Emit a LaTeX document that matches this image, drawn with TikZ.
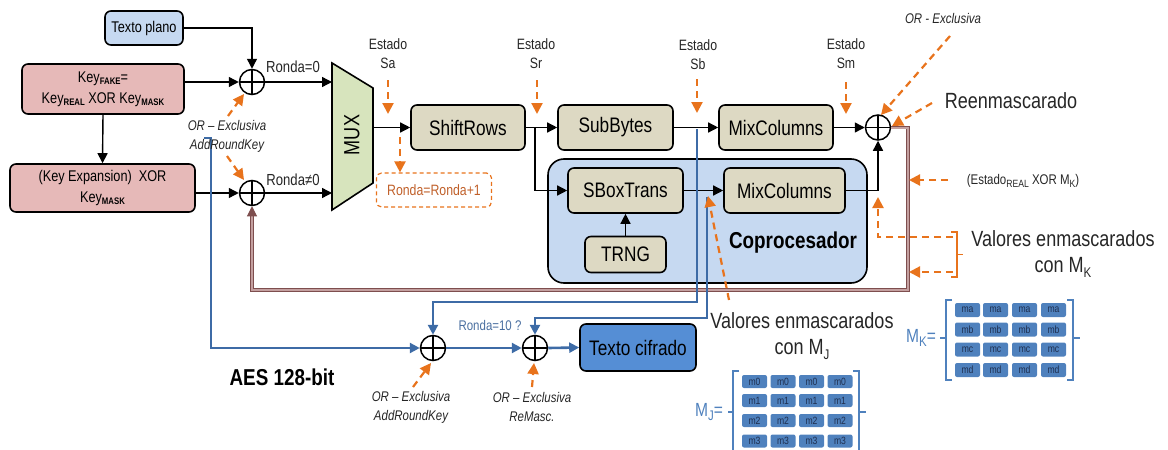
\documentclass[tikz,border=0pt]{standalone}
\usepackage{fontspec}
\setmainfont[FakeStretch=0.82]{Liberation Sans}
\usetikzlibrary{arrows.meta}
\definecolor{pinkb}{HTML}{E6B9B8}
\definecolor{lblue}{HTML}{C6D9F1}
\definecolor{tanc}{HTML}{DDD9C3}
\definecolor{mgreen}{HTML}{D7E4BD}
\definecolor{mblue}{HTML}{558ED5}
\definecolor{cellb}{HTML}{4F81BD}
\definecolor{celltx}{HTML}{1F2F4F}
\definecolor{lineb}{HTML}{3D6BA6}
\definecolor{orng}{HTML}{E8731C}
\definecolor{ronc}{HTML}{C0602A}
\definecolor{r10c}{HTML}{4A6FA0}
\definecolor{brn}{HTML}{7E4E4E}
\definecolor{brnl}{HTML}{C4A0A0}
\definecolor{txd}{HTML}{262626}
\newcommand\fsz[2]{\fontsize{#1}{#2}\selectfont}
\newcommand\sbk[1]{\raisebox{-0.3ex}{\fontsize{9.5}{9.5}\selectfont\bfseries #1}}
\newcommand\sbn[1]{\raisebox{-0.4ex}{\fontsize{10.5}{10.5}\selectfont #1}}
\newcommand\sbm[1]{\raisebox{-0.4ex}{\fontsize{14}{14}\selectfont #1}}
\begin{document}
\begin{tikzpicture}[x=1pt,y=-1pt,
  bx/.style={draw=black, line width=1.6pt, rounded corners=6pt, inner sep=0pt, align=center},
  tanbx/.style={bx, fill=tanc, font=\fsz{21}{24}},
  xorc/.style={circle, draw=black, line width=1.5pt, fill=white, minimum size=25pt, inner sep=0pt,
    path picture={\draw[line width=1.5pt] (path picture bounding box.north) -- (path picture bounding box.south)
      (path picture bounding box.west) -- (path picture bounding box.east);}},
  arr/.style={draw=black, line width=1.4pt, -{Triangle[length=10pt,width=10pt]}},
  bl/.style={draw=lineb, line width=2.6pt, -{Triangle[length=10pt,width=10pt]}},
  od/.style={draw=orng, line width=2.2pt, dash pattern=on 7pt off 5pt, -{Triangle[length=11pt,width=11pt]}},
  lbl/.style={inner sep=0pt, align=center, text=txd},
  cell/.style={fill=cellb, rounded corners=2pt, minimum width=25pt, minimum height=13pt, inner sep=0pt, text=celltx, font=\fsz{10.5}{10.5}},
  brk/.style={draw=cellb, line width=1.5pt},
  fbl/.style={draw=brn, double=brnl, double distance=2pt, line width=0.9pt},
]
\useasboundingbox (0,0) rectangle (1168,450);

% coprocessor background
\node[bx, fill=lblue, rounded corners=16pt, minimum width=319pt, minimum height=124pt] (cop) at (707.5,221) {};
\node[inner sep=0pt, font=\fsz{23}{23}\bfseries] (coptx) at (793,243) {Coprocesador};

% left boxes
\node[bx, fill=lblue, minimum width=78pt, minimum height=34pt, font=\fsz{15.5}{15.5}] (tp) at (144,28) {Texto plano};
\node[bx, fill=pinkb, minimum width=162pt, minimum height=50pt, font=\fsz{15.5}{21}] (kf) at (103,89) {Key\sbk{FAKE}=\\Key\sbk{REAL} XOR Key\sbk{MASK}};
\node[bx, fill=pinkb, minimum width=185pt, minimum height=48pt, font=\fsz{15.5}{21}] (ke) at (102.5,188) {(Key Expansion)\ \ XOR\\Key\sbk{MASK}};

% xor nodes
\node[xorc] (x1) at (252,82) {};
\node[xorc] (x2) at (252,193) {};
\node[xorc] (x3) at (878,127.5) {};
\node[xorc] (x4) at (433,348) {};
\node[xorc] (x5) at (535,348) {};

% MUX
\draw[fill=mgreen, line width=1.6pt] (332,63) -- (373,88) -- (373,183) -- (332,210) -- cycle;
\node[rotate=90, inner sep=0pt, font=\fsz{22}{22}] (muxl) at (352,135) {MUX};
\coordinate (m1) at (332,82);
\coordinate (m2) at (332,193);
\coordinate (mo) at (373,127.5);

% stage boxes
\node[tanbx, minimum width=114pt, minimum height=45pt] (sr) at (468,127.5) {ShiftRows};
\node[tanbx, minimum width=115pt, minimum height=45pt] (sb) at (615.5,127.5) {SubBytes};
\node[tanbx, minimum width=114pt, minimum height=45pt] (mc) at (776,127.5) {MixColumns};
\node[tanbx, minimum width=115pt, minimum height=45pt] (sbt) at (625.5,190.5) {SBoxTrans};
\node[tanbx, minimum width=121pt, minimum height=45pt] (mc2) at (784.5,190.5) {MixColumns};
\node[tanbx, minimum width=81pt, minimum height=36pt] (trng) at (625.5,254.5) {TRNG};
\node[bx, fill=mblue, minimum width=116pt, minimum height=47pt, font=\fsz{21}{21}] (tc) at (638,347.5) {Texto cifrado};

% feedback (brown double line)
\coordinate (fb1) at (908,290);
\coordinate (fbt) at (252,214);
\draw[fbl, shorten >=10pt] (x3.east) -| (fb1) -| (x2.south);
\draw[draw=brn, line width=1pt, -{Triangle[length=10pt,width=10pt]}] (fbt) -- (x2.south);

% black connectors
\draw[arr] (tp.east) -| (x1.north);
\draw[arr] (kf.east |- x1.west) -- (x1.west);
\draw[arr] (kf.south) -- (ke.north);
\draw[arr] (ke.east |- x2.west) -- (x2.west);
\draw[arr] (x1.east) -- (m1);
\draw[arr] (x2.east) -- (m2);
\draw[arr] (mo) -- (sr.west);
\draw[arr] (sr.east) -- (sb.west);
\coordinate (brs) at (535,127.5);
\draw[arr] (brs) |- (sbt.west);
\draw[arr] (sb.east) -- (mc.west);
\draw[arr] (mc.east) -- (x3.west);
\draw[arr] (sbt.east) -- (mc2.west);
\draw[arr] (trng.north) -- (sbt.south);
\draw[arr] (mc2.east) -| (x3.south);

% blue lines
\coordinate (ba0) at (204,138);
\coordinate (ba1) at (211,138);
\draw[bl] (ba0) -- (ba1) |- (x4.west);
\coordinate (bb0) at (697,129);
\coordinate (bb1) at (433,302);
\draw[bl] (bb0) |- (bb1) -- (x4.north);
\coordinate (bc0) at (707,197);
\coordinate (bc1) at (535,318);
\draw[bl] (bc0) |- (bc1) -- (x5.north);
\draw[bl] (x4.east) -- (x5.west);
\draw[bl] (x5.east) -- (tc.west);

% labels
\node[lbl, font=\fsz{16}{16}] (r0) at (293,67) {Ronda=0};
\node[lbl, font=\fsz{16}{16}] (rn0) at (293,180) {Ronda≠0};
\node[lbl, font=\fsz{15}{19}] (esa) at (388,54) {Estado\\Sa};
\node[lbl, font=\fsz{15}{19}] (esr) at (536,54) {Estado\\Sr};
\node[lbl, font=\fsz{15}{19}] (esb) at (698,55) {Estado\\Sb};
\node[lbl, font=\fsz{15}{19}] (esm) at (846,54) {Estado\\Sm};
\node[draw=orng, line width=1.2pt, dash pattern=on 4pt off 3pt, rounded corners=5pt, minimum width=115pt, minimum height=34pt, inner sep=0pt, text=ronc, font=\fsz{15}{15}] (rr) at (434,190) {Ronda=Ronda+1};
\node[lbl, font=\fsz{14}{19}\itshape] (orl) at (227,136.5) {OR – Exclusiva\\AddRoundKey};
\node[lbl, font=\fsz{14}{14}\itshape] (ort) at (943,18) {OR - Exclusiva};
\node[lbl, font=\fsz{22}{22}] (reen) at (1011,101) {Reenmascarado};
\node[lbl, font=\fsz{14}{14}] (ereal) at (1023,181) {(Estado\sbn{REAL} XOR M\sbn{K})};
\node[lbl, font=\fsz{22}{26}] (vmk) at (1063,254) {Valores enmascarados\\con M\sbm{K}};
\node[lbl, font=\fsz{22}{26}] (vmj) at (802,336) {Valores enmascarados\\con M\sbm{J}};
\node[lbl, text=r10c, font=\fsz{14}{14}] (r10) at (490,325) {Ronda=10 ?};
\node[lbl, font=\fsz{23}{23}\bfseries, text=black] (aes) at (282,377) {AES 128-bit};
\node[lbl, font=\fsz{14}{19}\itshape] (orb1) at (411,407) {OR – Exclusiva\\AddRoundKey};
\node[lbl, font=\fsz{14}{19}\itshape] (orb2) at (532,407) {OR – Exclusiva\\ReMasc.};

% orange dashed arrows
\coordinate (osa) at (388,80);
\draw[od] (osa) -- (388,114);
\coordinate (osr) at (537,80);
\draw[od] (osr) -- (537,114);
\coordinate (osb) at (697,79);
\draw[od] (osb) -- (697,113);
\coordinate (osm) at (846,82);
\draw[od] (osm) -- (846,114);
\coordinate (orr0) at (400,137);
\draw[od] (orr0) -- (orr0 |- rr.north);
\coordinate (ol1) at (228,116);
\coordinate (ol1t) at (244,94);
\draw[od] (ol1) -- (ol1t);
\coordinate (ol2) at (227,156);
\coordinate (ol2t) at (244,180);
\draw[od] (ol2) -- (ol2t);
\coordinate (ot0) at (950,36);
\coordinate (ot1) at (881,115);
\draw[od] (ot0) -- (ot1);
\coordinate (oe0) at (932,103);
\coordinate (oe1) at (892,126);
\draw[od] (oe0) -- (oe1);
\coordinate (or0) at (948,180);
\coordinate (or1) at (909,180);
\draw[od] (or0) -- (or1);
\coordinate (vk1) at (953,237);
\coordinate (vk2) at (878,237);
\coordinate (vk3) at (878,197);
\draw[od] (vk1) -- (vk2) -- (vk3);
\coordinate (vk4) at (953,272);
\coordinate (vk5) at (909,272);
\draw[od] (vk4) -- (vk5);
\draw[orng, line width=1.3pt] (951,232) -- (957,232) -- (957,277) -- (951,277) (957,254.5) -- (963,254.5);
\coordinate (vj0) at (729,300);
\coordinate (vj1) at (708,196);
\draw[od] (vj0) -- (vj1);
\coordinate (ob10) at (413,387);
\coordinate (ob11) at (431,363);
\draw[od] (ob10) -- (ob11);
\coordinate (ob20) at (532,387);
\coordinate (ob21) at (534,363);
\draw[od] (ob20) -- (ob21);

% matrices
\node[lbl, text=cellb, font=\fsz{19}{19}] (mjl) at (709,412) {M\sbm{J}=};
\draw[brk] (739,371) -- (733,371) -- (733,452) (728,412) -- (733,412);
\draw[brk] (853,371) -- (859,371) -- (859,452) (859,412) -- (866,412);
\foreach \r/\yy in {0/381.5,1/400.5,2/420.5,3/441} {
  \foreach \c/\xx in {1/754.5,2/783,3/811.5,4/840} {
    \node[cell] (mj\r\c) at (\xx,\yy) {m\r};
  }
}
\node[lbl, text=cellb, font=\fsz{19}{19}] (mkl) at (921,338) {M\sbm{K}=};
\draw[brk] (952,300) -- (946,300) -- (946,380) -- (952,380) (940,338) -- (946,338);
\draw[brk] (1067,300) -- (1073,300) -- (1073,380) -- (1067,380) (1073,338) -- (1080,338);
\foreach \r/\yy in {a/310,b/329.5,c/349.5,d/370} {
  \foreach \c/\xx in {1/967.5,2/995.5,3/1024.5,4/1053.5} {
    \node[cell, minimum height=14pt] (mk\r\c) at (\xx,\yy) {m\r};
  }
}
\end{tikzpicture}
\end{document}
